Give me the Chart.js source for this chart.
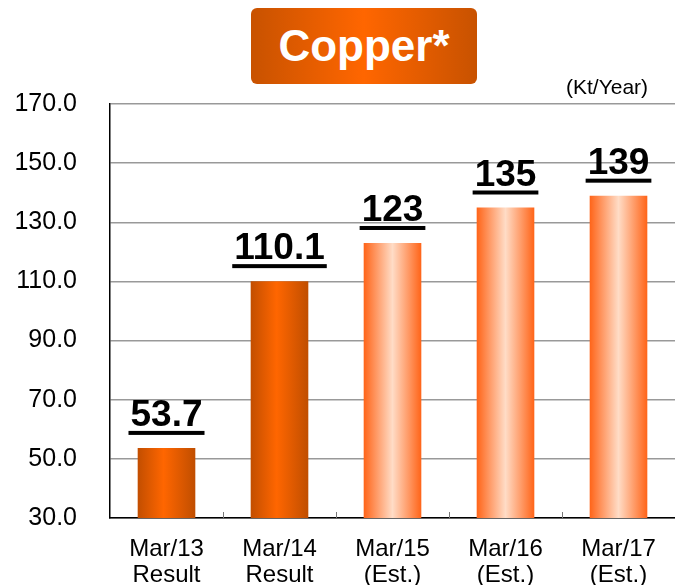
<!DOCTYPE html>
<html>
<head>
<meta charset="utf-8">
<script src="https://cdn.jsdelivr.net/npm/chart.js@4"></script>
<style>
  body { margin: 0; background: #fff; }
  #wrap { position: relative; width: 675px; height: 585px; overflow: hidden; }
  #title {
    position: absolute; left: 251px; top: 8px; width: 226px; height: 76px;
    border-radius: 6px;
    background: linear-gradient(to right, #c85200, #ff6600 50%, #c85200);
    color: #fff; font: bold 44px "Liberation Sans", Arial, sans-serif;
    text-align: center; line-height: 76px;
  }
  #unit {
    position: absolute; left: 566px; top: 75px;
    font: 21px "Liberation Sans", Arial, sans-serif; color: #000;
  }
</style>
</head>
<body>
<div id="wrap">
  <canvas id="chart" width="675" height="585"></canvas>
  <div id="title">Copper*</div>
  <div id="unit">(Kt/Year)</div>
</div>
<script>
// Chart data
const categories = [["Mar/13", "Result"], ["Mar/14", "Result"], ["Mar/15", "(Est.)"], ["Mar/16", "(Est.)"], ["Mar/17", "(Est.)"]];
const values = [53.7, 110.1, 123, 135, 139];
const valueLabels = ["53.7", "110.1", "123", "135", "139"];
const isEstimate = [false, false, true, true, true];

const FONT = '"Liberation Sans", Arial, sans-serif';

// Horizontal gradient for each bar
function barGradient(context) {
  const chart = context.chart;
  const xScale = chart.scales.x;
  if (!chart.chartArea || !xScale) return "#ff6600";
  const cx = xScale.getPixelForValue(context.dataIndex);
  const half = (xScale.width / categories.length) * 0.51 / 2;
  const g = chart.ctx.createLinearGradient(cx - half, 0, cx + half, 0);
  if (isEstimate[context.dataIndex]) {
    g.addColorStop(0, "#ff6418");
    g.addColorStop(0.5, "#ffdcc6");
    g.addColorStop(1, "#ff6418");
  } else {
    g.addColorStop(0, "#c24e00");
    g.addColorStop(0.45, "#ff6600");
    g.addColorStop(1, "#c04e00");
  }
  return g;
}

// Underlined value labels above bars + small x-axis ticks
const labelPlugin = {
  id: "valueLabels",
  afterDatasetsDraw(chart) {
    const ctx = chart.ctx;
    const meta = chart.getDatasetMeta(0);
    ctx.save();
    ctx.font = "bold 37px " + FONT;
    ctx.fillStyle = "#000";
    ctx.textAlign = "center";
    ctx.textBaseline = "alphabetic";
    meta.data.forEach((bar, i) => {
      const text = valueLabels[i];
      const w = ctx.measureText(text).width;
      const base = bar.y - 22;
      ctx.fillText(text, bar.x, base);
      ctx.fillRect(bar.x - w / 2 - 2, base + 5, w + 4, 4);
    });
    // tick marks on the category axis
    const xs = chart.scales.x;
    ctx.strokeStyle = "#777";
    ctx.lineWidth = 1;
    for (let i = 1; i < categories.length; i++) {
      const x = Math.round(xs.left + i * xs.width / categories.length) + 0.5;
      ctx.beginPath();
      ctx.moveTo(x, xs.top);
      ctx.lineTo(x, xs.top - 6);
      ctx.stroke();
    }
    ctx.restore();
  }
};

new Chart(document.getElementById("chart"), {
  type: "bar",
  data: {
    labels: categories,
    datasets: [{
      data: values,
      backgroundColor: barGradient,
      borderWidth: 0,
      categoryPercentage: 1,
      barPercentage: 0.51
    }]
  },
  options: {
    responsive: false,
    animation: false,
    layout: { padding: { top: 104, left: 0, right: 0, bottom: 0 } },
    plugins: {
      legend: { display: false },
      tooltip: { enabled: false }
    },
    scales: {
      x: {
        grid: { display: false, drawTicks: false },
        border: { display: true, color: "#000", width: 1.5 },
        ticks: {
          color: "#000",
          padding: 18,
          font: { family: FONT, size: 24, lineHeight: 1.1 },
          maxRotation: 0
        },
        afterFit(scale) { scale.height = 67; }
      },
      y: {
        min: 30,
        max: 170,
        grid: { color: "#999", lineWidth: 1.5, drawTicks: false },
        border: { display: true, color: "#000", width: 1.5 },
        ticks: {
          stepSize: 20,
          color: "#000",
          padding: 33,
          font: { family: FONT, size: 25 },
          callback: v => v.toFixed(1)
        },
        afterFit(scale) { scale.width = 110; }
      }
    }
  },
  plugins: [labelPlugin]
});
</script>
</body>
</html>
